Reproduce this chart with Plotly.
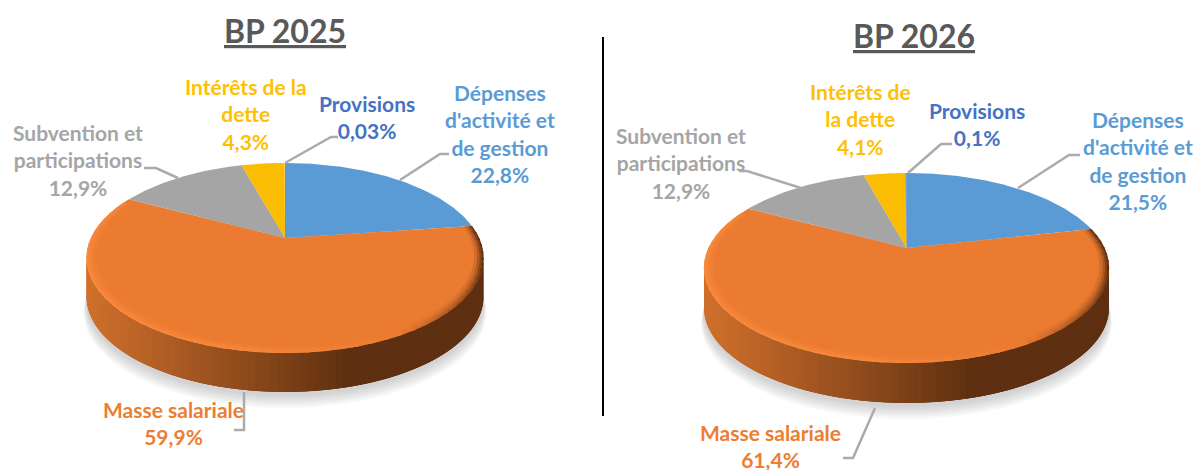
import numpy as np
import plotly.graph_objects as go

# ---- data ----
categories = ["Dépenses d'activité et de gestion", "Masse salariale",
              "Subvention et participations", "Intérêts de la dette", "Provisions"]
values_2025 = [22.8, 59.9, 12.9, 4.3, 0.03]
values_2026 = [21.5, 61.4, 12.9, 4.1, 0.1]
labels_2025 = ["22,8%", "59,9%", "12,9%", "4,3%", "0,03%"]
labels_2026 = ["21,5%", "61,4%", "12,9%", "4,1%", "0,1%"]
titles = ["BP 2025", "BP 2026"]
colors = ["#5B9BD5", "#EB7B31", "#A5A5A5", "#FBBC04", "#4472C4"]
text_colors = ["#5B9BD5", "#ED7D31", "#A5A5A5", "#FFC000", "#4472C4"]

FONT = "Lato, Carlito, Calibri, sans-serif"
fig = go.Figure()


def hexrgb(c):
    return np.array([int(c[i:i + 2], 16) for i in (1, 3, 5)], float)


def mix(a, b, w):
    v = hexrgb(a) * (1 - w) + hexrgb(b) * w
    return "rgb(%d,%d,%d)" % tuple(v.round())


def add_poly(xs, ys, color, lw=0.0, line=None):
    fig.add_trace(go.Scatter(x=xs, y=ys, mode="lines", fill="toself", fillcolor=color,
                             line=dict(color=line or color, width=lw), hoverinfo="skip",
                             showlegend=False))


def draw_pie(values, cx, cy, half_w, depth):
    k = 0.21
    a = 90.8
    R = half_w * np.sqrt(1 - k * k)

    def proj(deg, r=1.0):
        t = np.radians(deg)
        x = r * np.sin(t)
        y = r * np.cos(t)
        d = 1 + k * y
        return cx + R * x / d, cy - a * y / d

    # soft shadow under the disc
    full = np.arange(0, 361, 3.0)
    for i in range(7):
        sx, sy = proj(full, 1.0)
        g = 7 - i
        sx = cx + (sx - cx) * (1 + 0.002 * g)
        sy = sy + depth + 2 + g * 2.0
        add_poly(sx, sy, "rgba(120,120,120,0.05)")

    # wall, shaded by horizontal position; every strip overlaps the next, so no seams
    widest = np.degrees(np.arccos(-k))
    t_front = np.linspace(widest, 360 - widest, 91)
    for j in range(len(t_front) - 1):
        t0, t1 = t_front[j], t_front[min(j + 3, len(t_front) - 1)]
        tt = np.linspace(t0, t1, 5)
        ex, ey = proj(tt)
        xm = proj((t_front[j] + t_front[j + 1]) / 2)[0]
        u = (cx + half_w - xm) / (2 * half_w)  # 0 right .. 1 left
        if u < 0.34:
            col = "#5E2F10"
        else:
            col = mix("#5E2F10", "#D0702C", ((u - 0.34) / 0.66) ** 0.95)
        add_poly(np.r_[ex, ex[::-1]], np.r_[ey, ey[::-1] + depth], col)

    # wedges
    fr = np.array(values, float)
    fr = fr / fr.sum()
    edges = np.concatenate([[0], np.cumsum(fr)]) * 360
    for i, col in enumerate(colors):
        tt = np.linspace(edges[i], edges[i + 1], max(3, int((edges[i + 1] - edges[i]) * 2)))
        ex, ey = proj(tt)
        add_poly(np.r_[cx, ex, cx], np.r_[cy, ey, cy], col)

    # bevel round the front edge of the orange wedge only
    bands = [(0.955, 0.970, 0.18), (0.970, 0.982, 0.45), (0.982, 0.992, 0.75), (0.992, 1.001, 1.0)]
    steps = np.arange(edges[1], min(edges[2], 296) - 3.9, 4.0)
    for r0, r1, s in bands:
        for t0 in steps:
            tm = t0 + 2
            if tm < 150:
                q = min(1.0, (150 - tm) / 45)
                col = mix("#EB7B31", "#5E2F10", s * q ** 0.8)
            elif tm < 185:
                q = (tm - 150) / 35
                col = mix("#EB7B31", "#F88B3E", s * q * 0.8)
            else:
                col = mix("#EB7B31", "#FA8C3E", s * 0.9)
            ax, ay = proj(np.array([t0, t0 + 5, t0 + 5, t0]), np.array([r1, r1, r0, r0]))
            add_poly(ax, ay, col)


draw_pie(values_2025, 285, 238, 198.5, 39)
draw_pie(values_2026, 906.5, 248, 202.5, 40)

# leader lines
leaders = [
    ([285, 331, 338], [163, 137, 137]),
    ([400, 440, 449], [180, 154, 154]),
    ([178, 156, 144], [178, 168, 168]),
    ([244, 244, 234], [392, 430, 430]),
    ([908, 941, 952], [173, 144, 144]),
    ([1018, 1069, 1080], [188, 155, 155]),
    ([801, 747, 739], [188, 171, 171]),
    ([875, 853, 843], [408, 458, 458]),
]
for lx, ly in leaders:
    fig.add_trace(go.Scatter(x=lx, y=ly, mode="lines", line=dict(color="#ABABAB", width=2.5),
                             hoverinfo="skip", showlegend=False))

# separator
fig.add_trace(go.Scatter(x=[603, 603], y=[37, 416], mode="lines", line=dict(color="#000000", width=2),
                         hoverinfo="skip", showlegend=False))


def note(x, y, text, color, size=21):
    fig.add_annotation(x=x, y=y, text=text, showarrow=False, xanchor="center", yanchor="middle",
                       align="center", font=dict(family=FONT, size=size, color=color, weight="bold"))


blocks_2025 = [
    (500, 133, "Dépenses<br>d'activité et<br>de gestion<br>" + labels_2025[0], 0),
    (173, 423, "Masse salariale<br>" + labels_2025[1], 1),
    (78, 160, "Subvention et<br>participations<br>" + labels_2025[2], 2),
    (246, 114, "Intérêts de la<br>dette<br>" + labels_2025[3], 3),
    (367, 117, "Provisions<br>" + labels_2025[4], 4),
]
blocks_2026 = [
    (1138, 160, "Dépenses<br>d'activité et<br>de gestion<br>" + labels_2026[0], 0),
    (770, 446, "Masse salariale<br>" + labels_2026[1], 1),
    (681, 163, "Subvention et<br>participations<br>" + labels_2026[2], 2),
    (860, 119, "Intérêts de<br>la dette<br>" + labels_2026[3], 3),
    (977, 124, "Provisions<br>" + labels_2026[4], 4),
]
for b in blocks_2025 + blocks_2026:
    note(b[0], b[1], b[2], text_colors[b[3]])

note(285, 30, "<u>" + titles[0] + "</u>", "#595959", 32)
note(914, 35, "<u>" + titles[1] + "</u>", "#595959", 32)

fig.update_layout(width=1196, height=470, autosize=False, margin=dict(l=0, r=0, t=0, b=0),
                  paper_bgcolor="white", plot_bgcolor="white", showlegend=False,
                  xaxis=dict(range=[0, 1196], visible=False, fixedrange=True),
                  yaxis=dict(range=[470, 0], visible=False, fixedrange=True))

fig.write_html("out.html", config={"displayModeBar": False},
               post_script="document.body.style.margin='0';document.body.style.overflow='hidden';")
